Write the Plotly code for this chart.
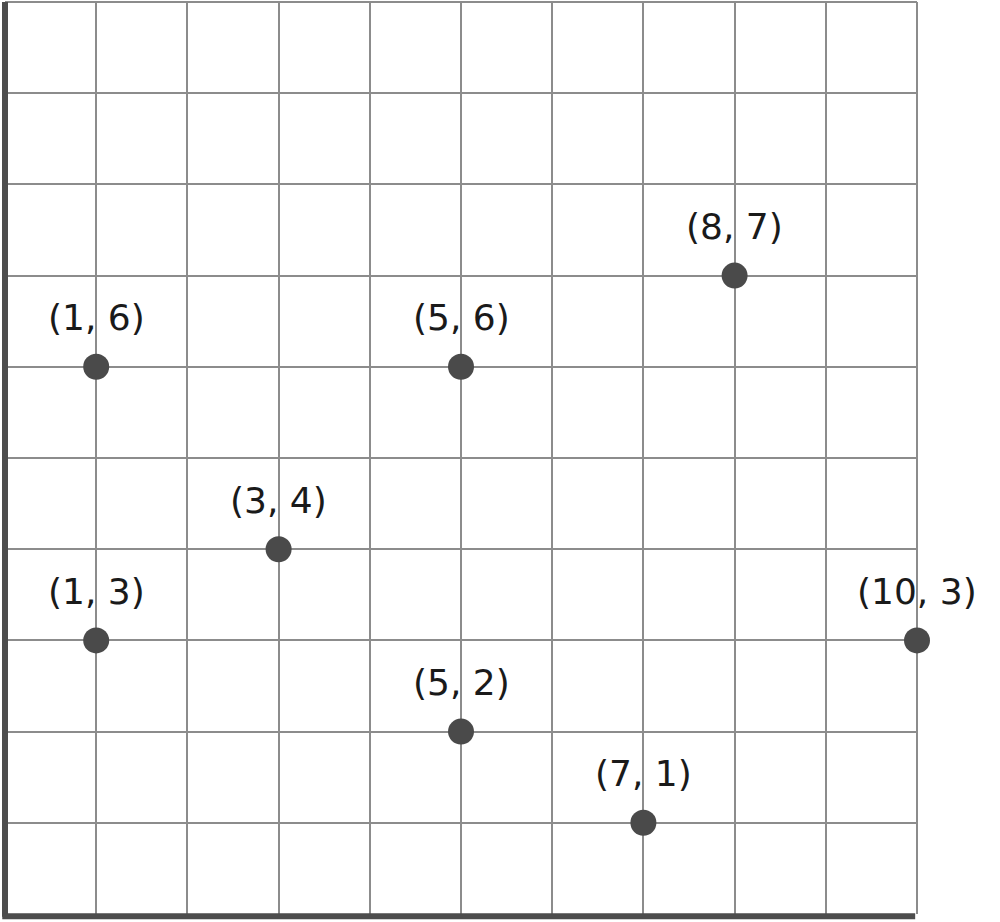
import plotly.graph_objects as go

xs = [1, 1, 3, 5, 5, 7, 8, 10]
ys = [6, 3, 4, 6, 2, 1, 7, 3]
labels = [f"({x}, {y})" for x, y in zip(xs, ys)]

AXIS_COLOR = "#4d4d4d"
GRID_COLOR = "#8c8c8c"
POINT_COLOR = "#4a4a4a"

fig = go.Figure()
fig.add_trace(go.Scatter(
    x=xs, y=ys, mode="markers",
    marker=dict(size=26, color=POINT_COLOR),
    cliponaxis=False, hoverinfo="skip", showlegend=False,
))

for x, y, t in zip(xs, ys, labels):
    fig.add_annotation(x=x, y=y, text=t, showarrow=False, xanchor="center",
                       yanchor="middle", yshift=49,
                       font=dict(family="DejaVu Sans", size=36, color="#1a1a1a"))

# axis lines (paper-referenced so they are not clipped at the plot edge)
fig.add_shape(type="line", xref="paper", yref="paper", x0=0, x1=0, y0=-0.003, y1=1,
              line=dict(color=AXIS_COLOR, width=6), layer="above")
fig.add_shape(type="line", xref="paper", yref="paper", x0=-0.003, x1=0.998,
              y0=-0.0025, y1=-0.0025,
              line=dict(color=AXIS_COLOR, width=6), layer="above")
# edge grid lines at x = 10 and y = 10
fig.add_shape(type="line", xref="paper", yref="paper", x0=1, x1=1, y0=0, y1=1,
              line=dict(color=GRID_COLOR, width=2), layer="below")
fig.add_shape(type="line", xref="paper", yref="paper", x0=0, x1=1, y0=1, y1=1,
              line=dict(color=GRID_COLOR, width=2), layer="below")

fig.update_xaxes(range=[0, 10], dtick=1, tick0=0, showgrid=True, gridcolor=GRID_COLOR,
                 gridwidth=2, zeroline=False, showline=False, showticklabels=False,
                 ticks="", fixedrange=True)
fig.update_yaxes(range=[0, 10], dtick=1, tick0=0, showgrid=True, gridcolor=GRID_COLOR,
                 gridwidth=2, zeroline=False, showline=False, showticklabels=False,
                 ticks="", fixedrange=True)

fig.update_layout(
    width=1000, height=922,
    margin=dict(l=5, r=83, t=2, b=8),
    paper_bgcolor="white", plot_bgcolor="white",
    showlegend=False,
)

fig.write_html("out.html", config={"displayModeBar": False},
               post_script="document.body.style.margin='0';")
